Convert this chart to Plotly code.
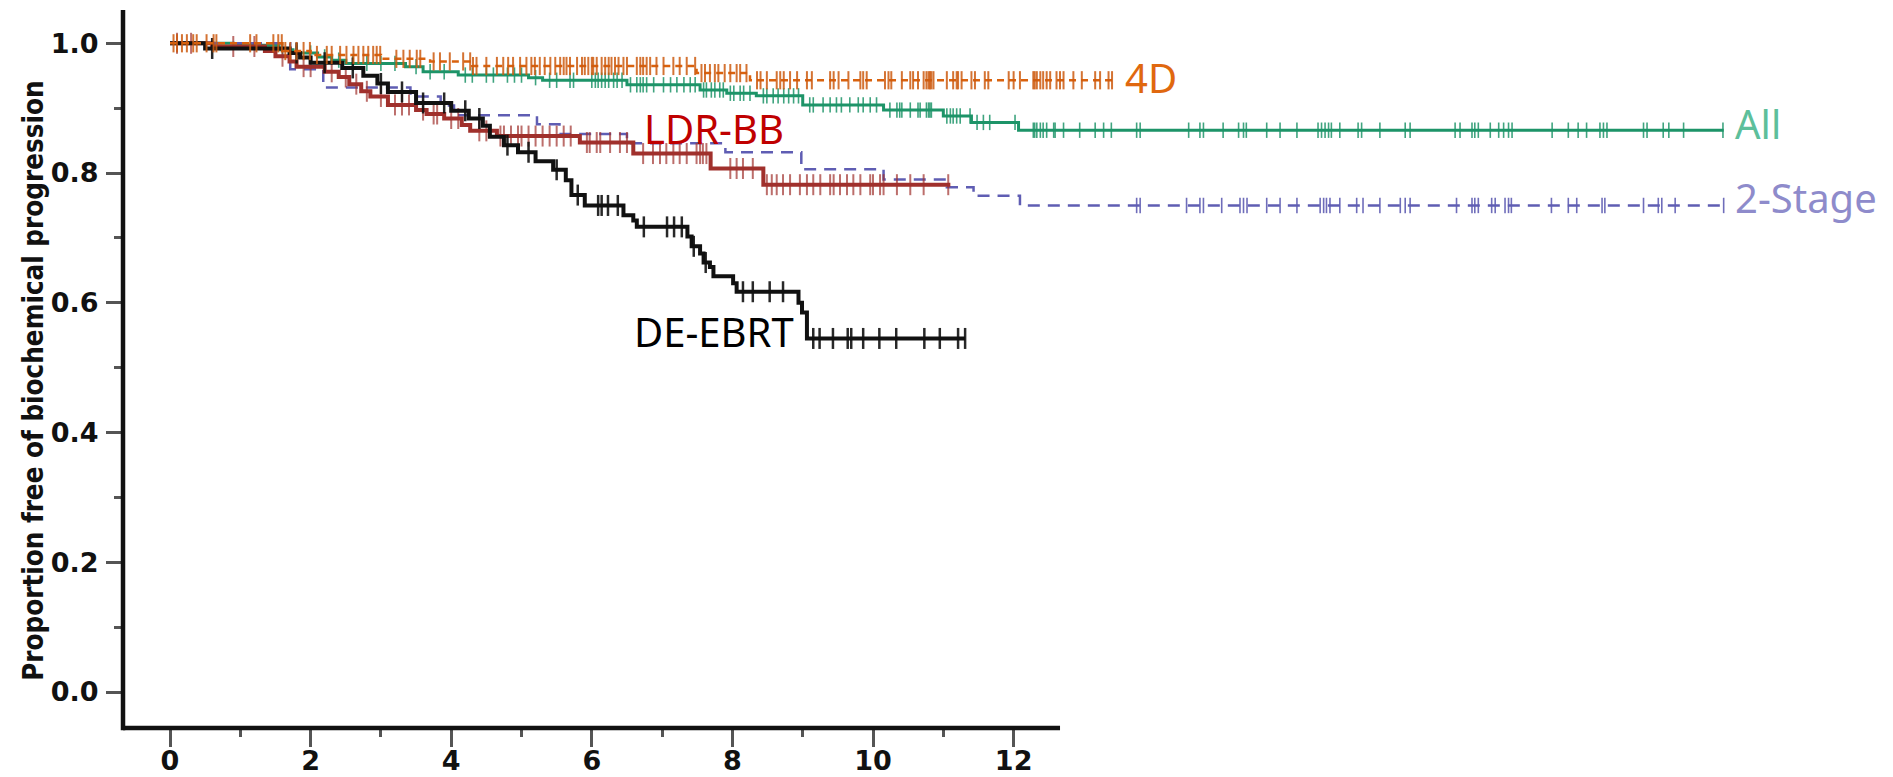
import numpy as np
import plotly.graph_objects as go

# ---------------- data (time in years, proportion free of progression) ----------------
de_t = [0, 0.5, 1.7, 1.85, 2.0, 2.45, 2.75, 2.95, 3.1, 3.5, 4.0, 4.25, 4.45, 4.55, 4.75,
        4.95, 5.2, 5.45, 5.63, 5.71, 5.9, 6.45, 6.59, 6.64, 7.36, 7.42, 7.54, 7.59, 7.68,
        7.73, 8.01, 8.06, 8.94, 8.99, 9.06]
de_s = [1.0, 0.992, 0.985, 0.978, 0.970, 0.962, 0.950, 0.938, 0.925, 0.908, 0.896, 0.884,
        0.873, 0.856, 0.843, 0.832, 0.818, 0.805, 0.789, 0.766, 0.750, 0.735, 0.727, 0.717,
        0.702, 0.687, 0.676, 0.662, 0.655, 0.641, 0.630, 0.617, 0.600, 0.585, 0.545]
de_end = 11.31
de_cens = [0.6, 1.8, 2.2, 2.6, 3.0, 3.3, 3.6, 3.9, 4.2, 4.4, 4.8, 5.1, 5.5, 5.8, 6.09, 6.14,
           6.23, 6.37, 6.74, 7.07, 7.17, 7.28, 7.45, 7.62, 8.15, 8.29, 8.53, 8.72, 9.15, 9.24,
           9.43, 9.64, 9.69, 9.86, 10.09, 10.33, 10.73, 10.95, 11.21, 11.31]

ldr_t = [0, 0.6, 1.35, 1.5, 1.7, 1.8, 2.2, 2.4, 2.55, 2.72, 2.85, 3.1, 3.5, 3.65, 3.9, 4.15,
         4.27, 4.65, 5.83, 6.59, 7.69, 8.44]
ldr_s = [1.0, 0.995, 0.988, 0.980, 0.972, 0.964, 0.956, 0.948, 0.937, 0.926, 0.918, 0.905,
         0.897, 0.891, 0.884, 0.874, 0.865, 0.857, 0.847, 0.830, 0.807, 0.782]
ldr_end = 11.1
ldr_cens = [0.1, 0.3, 0.9, 1.2, 1.6, 1.9, 2.0, 2.3, 2.5, 2.65, 2.8, 3.0, 3.2, 3.3, 3.4, 3.6,
            3.75, 3.8, 4.0, 4.1, 4.4, 4.5, 4.7, 4.75, 4.85, 4.95, 5.0, 5.1, 5.2, 5.3, 5.4, 5.5,
            5.6, 5.7, 5.93, 5.97, 6.07, 6.12, 6.26, 6.4, 6.5, 6.73, 6.87, 6.97, 7.06, 7.16,
            7.25, 7.35, 7.49, 7.54, 7.58, 7.63, 7.97, 8.06, 8.15, 8.29, 8.49, 8.56, 8.63, 8.72,
            8.82, 8.96, 9.06, 9.15, 9.25, 9.39, 9.44, 9.53, 9.63, 9.72, 9.82, 9.96, 10.0, 10.1,
            10.15, 10.34, 10.53, 10.72, 11.07]

two_t = [0, 1.71, 2.18, 3.42, 3.85, 4.04, 5.22, 5.54, 6.5, 7.9, 8.98, 10.15, 11.05, 11.43, 12.09]
two_s = [1.0, 0.960, 0.932, 0.918, 0.904, 0.889, 0.875, 0.860, 0.846, 0.832, 0.806, 0.790,
         0.778, 0.765, 0.750]
two_end = 22.1
two_cens = [13.75, 13.80, 14.46, 14.65, 14.70, 14.96, 15.22, 15.27, 15.32, 15.60, 15.79, 16.03,
            16.36, 16.41, 16.45, 16.50, 16.64, 16.88, 16.97, 17.21, 17.50, 17.57, 17.64, 18.30,
            18.52, 18.56, 18.61, 18.80, 18.85, 18.99, 19.04, 19.08, 19.65, 19.89, 20.01, 20.37,
            20.41, 20.96, 21.17, 21.22, 21.41, 22.1]

all_t = [0, 0.9, 1.55, 1.75, 2.1, 2.3, 2.5, 3.35, 3.6, 4.1, 5.1, 5.3, 6.5, 7.54, 7.92, 8.34,
         9.0, 10.15, 11.0, 11.4, 12.07]
all_s = [1.0, 0.997, 0.990, 0.985, 0.979, 0.974, 0.969, 0.964, 0.956, 0.951, 0.947, 0.943,
         0.936, 0.928, 0.923, 0.919, 0.905, 0.897, 0.888, 0.878, 0.866]
all_end = 22.1
all_cens = [1.6, 1.8, 2.0, 2.2, 2.4, 2.6, 2.8, 3.0, 3.2, 3.5, 3.7, 3.9, 4.2, 4.3, 4.5, 4.6, 4.8,
            4.9, 5.0, 5.2, 5.4, 5.5, 5.69, 5.74, 6.0, 6.05, 6.09, 6.14, 6.19, 6.24, 6.31, 6.36,
            6.43, 6.55, 6.64, 6.69, 6.73, 6.78, 6.88, 7.02, 7.12, 7.21, 7.31, 7.40, 7.47, 7.59,
            7.63, 7.70, 7.75, 7.82, 7.87, 7.97, 8.02, 8.11, 8.16, 8.25, 8.44, 8.49, 8.58, 8.65,
            8.73, 8.80, 8.87, 8.94, 9.10, 9.15, 9.29, 9.39, 9.48, 9.55, 9.67, 9.79, 9.86, 9.96,
            10.05, 10.24, 10.34, 10.38, 10.41, 10.53, 10.64, 10.67, 10.76, 10.79, 10.81, 10.83,
            11.05, 11.10, 11.14, 11.19, 11.24, 11.38, 11.48, 11.57, 11.66, 12.02, 12.28, 12.30,
            12.33, 12.38, 12.42, 12.47, 12.57, 12.59, 12.71, 12.94, 13.16, 13.28, 13.39, 13.75,
            13.80, 14.49, 14.65, 14.70, 14.98, 15.20, 15.27, 15.31, 15.60, 15.79, 16.03, 16.33,
            16.38, 16.43, 16.48, 16.52, 16.64, 16.90, 16.95, 17.21, 17.57, 17.64, 18.28, 18.35,
            18.52, 18.56, 18.61, 18.78, 18.90, 18.97, 19.04, 19.09, 19.66, 19.89, 20.03, 20.15,
            20.34, 20.39, 20.44, 20.96, 21.01, 21.24, 21.32, 21.53, 22.09]

d4_t = [0, 1.6, 2.0, 3.0, 3.7, 4.3, 7.49, 8.25]
d4_s = [1.0, 0.988, 0.982, 0.976, 0.972, 0.965, 0.954, 0.943]
d4_end = 13.4
d4_cens = [0.05, 0.10, 0.17, 0.24, 0.33, 0.38, 0.52, 0.62, 0.66, 1.14, 1.23, 1.47, 1.54, 1.59,
           1.64, 1.71, 1.80, 1.90, 1.99, 2.09, 2.23, 2.30, 2.42, 2.51, 2.61, 2.68, 2.75, 2.82,
           2.89, 2.94, 2.99, 3.22, 3.32, 3.41, 3.51, 3.56, 3.75, 3.84, 3.98, 4.17, 4.27, 4.31,
           4.36, 4.50, 4.65, 4.74, 4.81, 4.88, 4.98, 5.07, 5.14, 5.19, 5.26, 5.33, 5.41, 5.48,
           5.55, 5.60, 5.64, 5.69, 5.79, 5.86, 5.90, 5.95, 6.00, 6.02, 6.07, 6.14, 6.19, 6.24,
           6.28, 6.33, 6.38, 6.45, 6.50, 6.64, 6.69, 6.73, 6.78, 6.83, 6.92, 7.02, 7.16, 7.25,
           7.35, 7.47, 7.56, 7.61, 7.68, 7.75, 7.80, 7.89, 7.97, 8.06, 8.11, 8.20, 8.35, 8.40,
           8.49, 8.63, 8.68, 8.73, 8.82, 8.92, 9.06, 9.13, 9.39, 9.44, 9.51, 9.65, 9.82, 9.86,
           9.91, 10.17, 10.22, 10.26, 10.41, 10.53, 10.57, 10.64, 10.72, 10.76, 10.79, 10.81,
           10.83, 10.86, 11.05, 11.14, 11.19, 11.21, 11.26, 11.40, 11.45, 11.59, 11.64, 11.93,
           12.00, 12.09, 12.28, 12.30, 12.33, 12.38, 12.42, 12.47, 12.52, 12.61, 12.66, 12.71,
           12.85, 12.97, 13.16, 13.23, 13.35, 13.40]

y_ticks = [0.0, 0.2, 0.4, 0.6, 0.8, 1.0]
y_tick_text = ["0.0", "0.2", "0.4", "0.6", "0.8", "1.0"]
y_minor = [0.1, 0.3, 0.5, 0.7, 0.9]
x_ticks = [0, 2, 4, 6, 8, 10, 12]
x_tick_text = ["0", "2", "4", "6", "8", "10", "12"]
x_minor = [1, 3, 5, 7, 9, 11]

labels = ["4D", "All", "2-Stage", "LDR-BB", "DE-EBRT"]
label_x = [13.55, 22.23, 22.23, 6.71, 6.57]
label_y = [0.9465, 0.8756, 0.7623, 0.8694, 0.555]
label_col = ["#e0680f", "#5dbf9b", "#8e8bcb", "#c00000", "#000000"]

# ---------------- helpers ----------------
def step_xy(t, s, end):
    return list(t) + [end], list(s) + [s[-1]]

def s_at(t, s, tc):
    t = np.asarray(t, float)
    s = np.asarray(s, float)
    idx = np.searchsorted(t, np.asarray(tc, float), side="right") - 1
    return s[np.clip(idx, 0, len(s) - 1)]

series = [
    # name, t, s, end, censor, line colour, width, dash, censor colour, censor size, censor width
    ("All", all_t, all_s, all_end, all_cens, "#1d9468", 3, "solid", "rgba(29,148,104,0.85)", 11, 1.6),
    ("2-Stage", two_t, two_s, two_end, two_cens, "#5f5db3", 2.5, "12px,8px", "rgba(95,93,179,0.9)", 11, 1.6),
    ("LDR-BB", ldr_t, ldr_s, ldr_end, ldr_cens, "#a0302c", 4, "solid", "rgba(160,48,44,0.7)", 15, 2),
    ("DE-EBRT", de_t, de_s, de_end, de_cens, "#111111", 4, "solid", "rgba(17,17,17,0.9)", 15, 2.5),
    ("4D", d4_t, d4_s, d4_end, d4_cens, "#d9620e", 2.5, "7px,5px", "rgba(205,90,15,0.85)", 13, 2),
]

fig = go.Figure()
for name, t, s, end, cens, col, w, dash, ccol, csize, cw in series:
    xs, ys = step_xy(t, s, end)
    fig.add_trace(go.Scatter(x=xs, y=ys, mode="lines", line_shape="hv",
                             line=dict(color=col, width=w, dash=dash),
                             name=name, showlegend=False, hoverinfo="skip"))
    fig.add_trace(go.Scatter(x=cens, y=s_at(t, s, cens), mode="markers",
                             marker=dict(symbol="line-ns", size=csize,
                                         line=dict(color=ccol, width=cw)),
                             showlegend=False, hoverinfo="skip"))

for txt, lx, ly, lc in zip(labels, label_x, label_y, label_col):
    fig.add_annotation(x=lx, y=ly, xref="x", yref="y", text=txt, showarrow=False,
                       xanchor="left", yanchor="middle",
                       font=dict(family="Noto Sans", size=40, color=lc))

# axis geometry
X_LO, X_HI = -0.6686, 24.466
AXIS_X_END = 12.66
Y_LO, Y_HI = -0.0555, 1.0513

tickfont = dict(family="DejaVu Sans", size=27, color="#111111", weight="bold")
fig.update_xaxes(range=[X_LO, X_HI], showline=False, showgrid=False, zeroline=False,
                 automargin=False, ticklabelstandoff=-9,
                 tickvals=x_ticks, ticktext=x_tick_text, ticks="outside", ticklen=18,
                 tickwidth=2.5, tickcolor="#555555", tickfont=tickfont,
                 minor=dict(tickvals=x_minor, ticks="outside", ticklen=8, tickwidth=2.5,
                            tickcolor="#555555", showgrid=False))
fig.update_yaxes(range=[Y_LO, Y_HI], showline=False, showgrid=False, zeroline=False,
                 automargin=False, ticklabelstandoff=2,
                 tickvals=y_ticks, ticktext=y_tick_text, ticks="outside", ticklen=16,
                 tickwidth=2.5, tickcolor="#555555", tickfont=tickfont,
                 minor=dict(tickvals=y_minor, ticks="outside", ticklen=8, tickwidth=2.5,
                            tickcolor="#555555", showgrid=False))

# axis lines (x axis line only spans the 0..12 region like the original)
fig.add_shape(type="line", xref="x", yref="paper", x0=X_LO, x1=AXIS_X_END, y0=0, y1=0,
              line=dict(color="#111111", width=4.5), layer="above")
fig.add_shape(type="line", xref="paper", yref="paper", x0=0, x1=0, y0=-0.003, y1=1,
              line=dict(color="#111111", width=4.5), layer="above")

fig.add_annotation(text="Proportion free of biochemical progression", xref="paper", yref="paper",
                   x=-0.051, y=0.4833, textangle=-90, showarrow=False,
                   xanchor="center", yanchor="middle",
                   font=dict(family="Liberation Sans Narrow, DejaVu Sans Condensed, Roboto Condensed, Roboto",
                             size=27.5, color="#111111", weight="bold"))

# the page body adds an 8px margin, so the figure is sized/placed to compensate
fig.update_layout(width=1885, height=769, margin=dict(l=115, r=3, t=2, b=49),
                  paper_bgcolor="white", plot_bgcolor="white")

fig.write_html("out.html")
